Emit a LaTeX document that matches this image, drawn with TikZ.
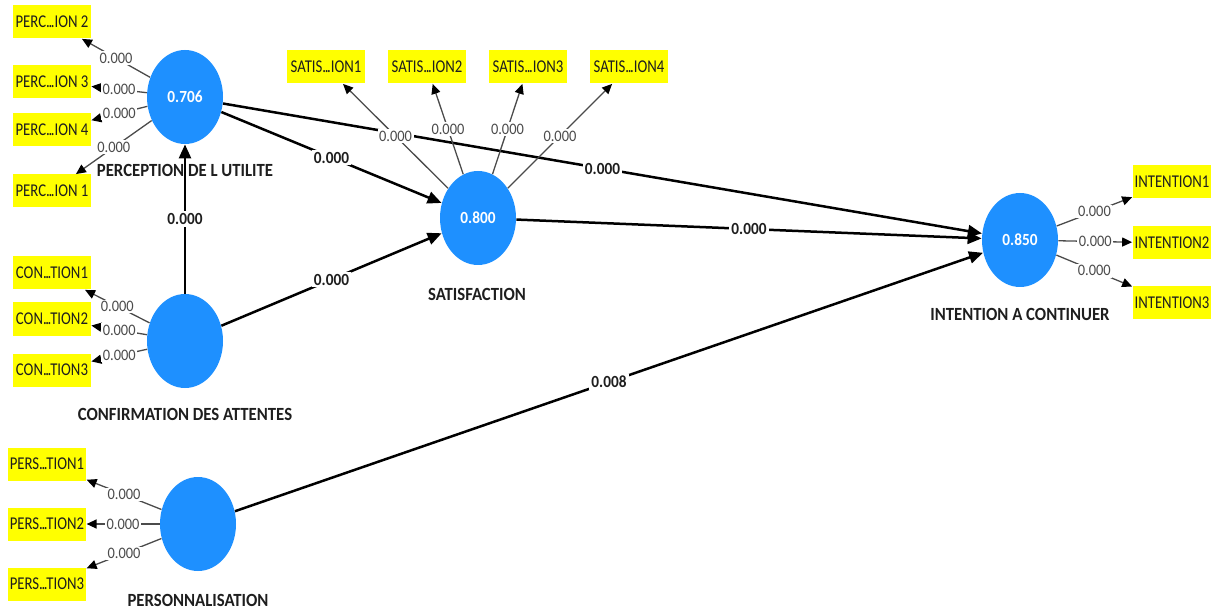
\documentclass[tikz,border=0pt]{standalone}
\usepackage{fontspec}
\setmainfont{Carlito}[FakeStretch=0.9]
\newfontfamily\indfont{Carlito}[FakeStretch=0.82]
\usetikzlibrary{shapes.geometric,arrows.meta,calc}
\definecolor{lvblue}{RGB}{30,144,255}
\definecolor{indyellow}{RGB}{255,255,0}
\definecolor{loadgray}{RGB}{75,75,75}
\definecolor{txtdark}{RGB}{30,30,30}
\newcommand{\tdots}{.\kern-0.7pt.\kern-0.7pt.}
\begin{document}
\begin{tikzpicture}[x=0.5pt,y=-0.5pt,
  lv/.style={ellipse, fill=lvblue, draw=none, minimum width=38pt, minimum height=47pt, inner sep=0pt, text=white, font=\fontsize{8.5}{10}\selectfont\bfseries},
  ind/.style={rectangle, fill=indyellow, draw=none, minimum width=39pt, minimum height=16.5pt, inner sep=1pt, font=\indfont\fontsize{9}{10}\selectfont, text=txtdark},
  lvname/.style={font=\fontsize{9.3}{11}\selectfont\bfseries, text=txtdark, inner sep=0pt},
  load/.style={draw=loadgray, line width=0.65pt, -{Triangle[length=5pt,width=4.5pt,color=black]}},
  loadlab/.style={fill=white, inner sep=0.8pt, font=\fontsize{8}{9}\selectfont, text=loadgray},
  struct/.style={draw=black, line width=1.25pt, -{Triangle[length=7pt,width=6pt]}},
  structlab/.style={fill=white, inner sep=1pt, font=\fontsize{8.5}{10}\selectfont\bfseries, text=txtdark}
]
\useasboundingbox (0,0) rectangle (1212,610);

% latent variables
\node[lv] (pu) at (185,97) {0.706};
\node[lv] (sat) at (478,218) {0.800};
\node[lv] (int) at (1020,240) {0.850};
\node[lv] (con) at (185,341) {};
\node[lv] (pers) at (198,524) {};

% latent variable names
\node[lvname] (puname) at (185,170) {PERCEPTION DE L UTILITE};
\node[lvname] (satname) at (477,294) {SATISFACTION};
\node[lvname] (intname) at (1020,314) {INTENTION A CONTINUER};
\node[lvname] (conname) at (185,414) {CONFIRMATION DES ATTENTES};
\node[lvname] (persname) at (198,600) {PERSONNALISATION};

% indicators
\node[ind] (p2) at (52,22) {PERC\tdots ION 2};
\node[ind] (p3) at (52,82) {PERC\tdots ION 3};
\node[ind] (p4) at (52,130) {PERC\tdots ION 4};
\node[ind] (p1) at (52,191) {PERC\tdots ION 1};
\node[ind] (c1) at (52,273) {CON\tdots TION1};
\node[ind] (c2) at (52,319) {CON\tdots TION2};
\node[ind] (c3) at (52,370) {CON\tdots TION3};
\node[ind] (s1) at (326,67) {SATIS\tdots ION1};
\node[ind] (s2) at (427,67) {SATIS\tdots ION2};
\node[ind] (s3) at (528,67) {SATIS\tdots ION3};
\node[ind] (s4) at (629,67) {SATIS\tdots ION4};
\node[ind] (ps1) at (47,464) {PERS\tdots TION1};
\node[ind] (ps2) at (47,524) {PERS\tdots TION2};
\node[ind] (ps3) at (47,584) {PERS\tdots TION3};
\node[ind] (i1) at (1172,182) {INTENTION1};
\node[ind] (i2) at (1172,243) {INTENTION2};
\node[ind] (i3) at (1172,303) {INTENTION3};

% structural paths
\draw[struct] (con) -- (pu);
\draw[struct] (pu) -- (sat);
\draw[struct] (pu) -- (int);
\draw[struct] (con) -- (sat);
\draw[struct] (sat) -- (int);
\draw[struct] (pers) -- (int);
\node[structlab] at ($(con)!0.5!(pu)$) {0.000};
\node[structlab] at ($(pu)!0.5!(sat)$) {0.000};
\node[structlab] at ($(pu)!0.5!(int)$) {0.000};
\node[structlab] at ($(con)!0.5!(sat)$) {0.000};
\node[structlab] at ($(sat)!0.5!(int)$) {0.000};
\node[structlab] at ($(pers)!0.5!(int)$) {0.008};

% loadings
\foreach \a/\b in {pu/p2,pu/p3,pu/p4,pu/p1,con/c1,con/c2,con/c3,sat/s1,sat/s2,sat/s3,sat/s4,pers/ps1,pers/ps2,pers/ps3,int/i1,int/i2,int/i3}{
  \draw[load] (\a) -- (\b) node[loadlab, midway] {0.000};
}
\end{tikzpicture}
\end{document}
